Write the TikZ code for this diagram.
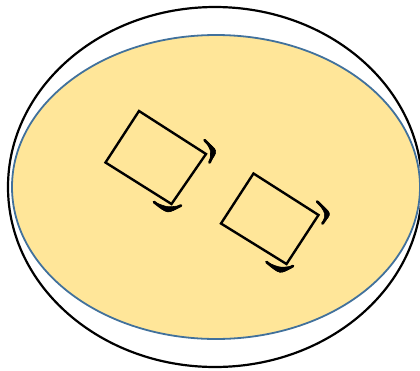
\documentclass[tikz,border=0pt]{standalone}
\definecolor{dishfill}{HTML}{FFE699}
\definecolor{dishedge}{HTML}{41719C}
\tikzset{
  cellbox/.style={draw=black, line width=2.4bp, line join=miter},
  wallarc/.style={draw=black, line width=2.8bp, line cap=round},
  crescent/.style={fill=black, draw=black, line width=0.6bp, line join=round},
}
\begin{document}
\begin{tikzpicture}[x=1bp, y=-1bp]
  \useasboundingbox (0,0) rectangle (420,371);
  \clip (0,0) rectangle (420,371);
  % agar layer and outer rim of the dish
  \draw[fill=dishfill, draw=dishedge, line width=1.8bp] (216,187) ellipse [x radius=204, y radius=152];
  \draw[black, line width=2.2bp] (215,187) ellipse [x radius=207, y radius=180];

  % first cell
  \coordinate (a1) at (139,111);
  \coordinate (a2) at (206,154);
  \coordinate (a3) at (171.5,204);
  \coordinate (a4) at (105.5,162.5);
  \draw[cellbox] (a1) -- (a2) -- (a3) -- (a4) -- cycle;
  \draw[wallarc] (204.5,140) .. controls (215,150.75) .. (209.5,162.5);
  \filldraw[crescent] (204.5,140) .. controls (218.5,150.75) .. (209.5,162.5)
                                 .. controls (211.5,150.75) .. cycle;
  \draw[wallarc] (154,202) .. controls (167.5,212.5) .. (181,205.5);
  \filldraw[crescent] (154,202) .. controls (167.5,214.5) .. (181,205.5)
                                .. controls (167.5,207.5) .. cycle;

  % second cell
  \coordinate (b1) at (253.5,173.5);
  \coordinate (b2) at (318.5,215);
  \coordinate (b3) at (286.5,264);
  \coordinate (b4) at (221,223.5);
  \draw[cellbox] (b1) -- (b2) -- (b3) -- (b4) -- cycle;
  \draw[wallarc] (317,201.5) .. controls (329.5,213.5) .. (322.5,223.5);
  \filldraw[crescent] (317,201.5) .. controls (332.5,213.5) .. (322.5,223.5)
                                 .. controls (326,213.5) .. cycle;
  \draw[wallarc] (266.5,262) .. controls (280,273) .. (293,266);
  \filldraw[crescent] (266.5,262) .. controls (280,275) .. (293,266)
                                 .. controls (280,268) .. cycle;
\end{tikzpicture}
\end{document}
